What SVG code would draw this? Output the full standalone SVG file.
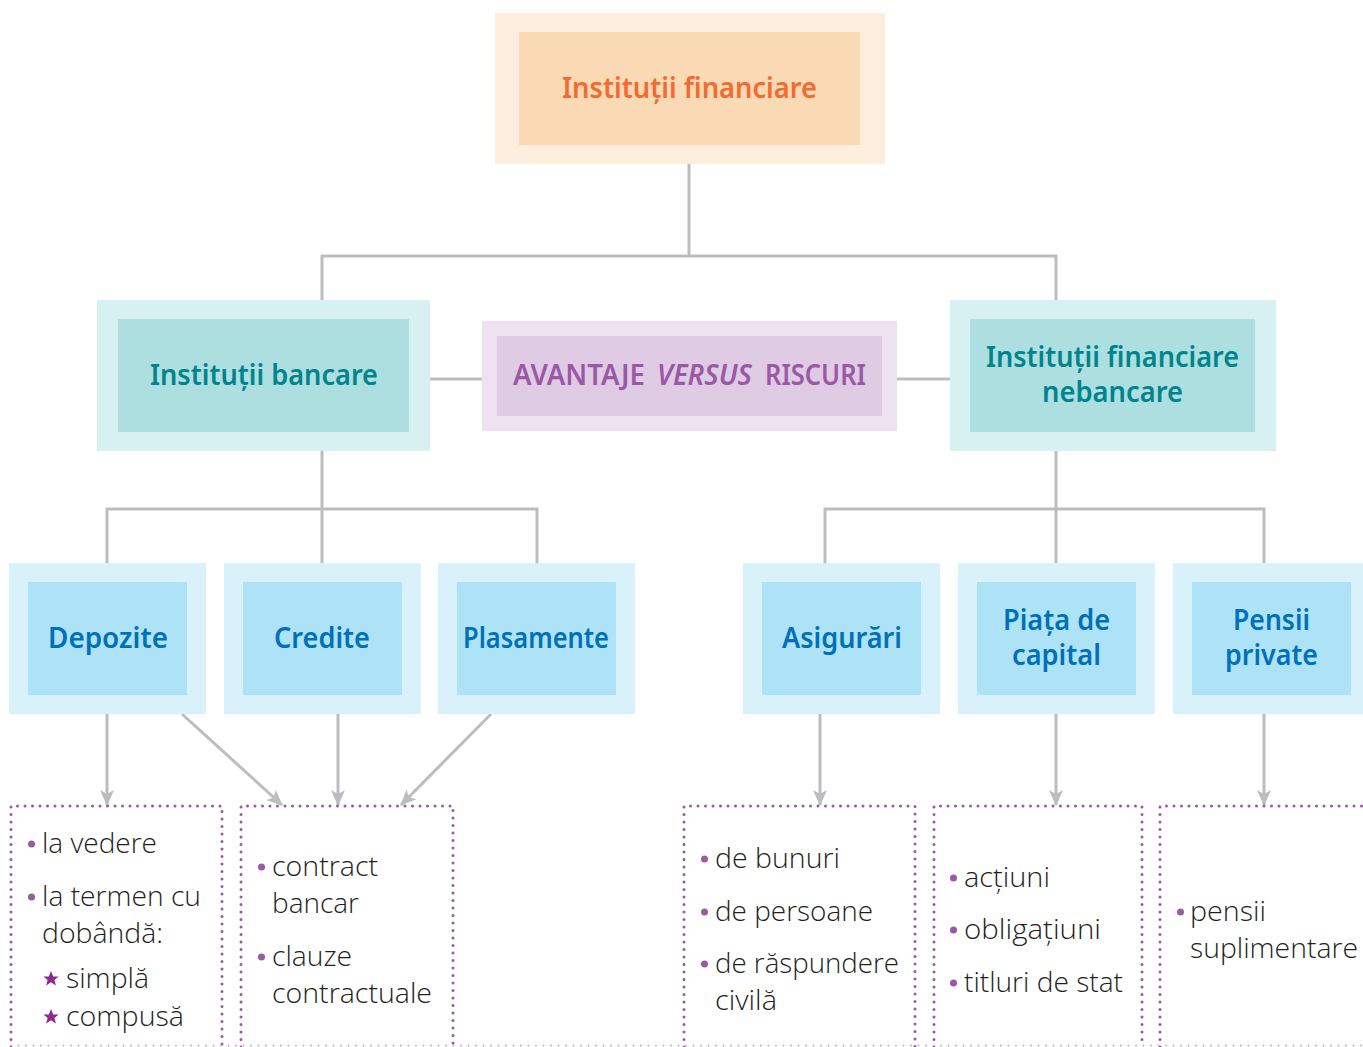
<svg xmlns="http://www.w3.org/2000/svg" width="1363" height="1047" viewBox="0 0 1363 1047">
<style>
.h{font-family:"Noto Sans","Open Sans","Liberation Sans",sans-serif;font-weight:600;text-anchor:middle}
.t28{font-size:28px}
.or{fill:#F26B30}
.teal{fill:#00848E}
.pur{fill:#9A58A6}
.blue{fill:#0070B8}
.li{font-family:"Open Sans","Noto Sans","Liberation Sans",sans-serif;font-weight:300;font-size:28px;fill:#231F20}
.conn{stroke:#BCBDC0;stroke-width:3;fill:none}
.dot{stroke:#9A58A6;stroke-width:3;stroke-linecap:round;stroke-dasharray:0 7.5;fill:none}
.dotf{stroke:#C8A8CE;stroke-width:2;stroke-linecap:round;stroke-dasharray:0 7.5;fill:none}
.bl{fill:#9A58A6}
.o1{fill:#D9F1FB}.i1{fill:#AEE3F7}
.o2{fill:#D7F0F1}.i2{fill:#AEDFE0}
</style>
<defs>
<marker id="ah" markerUnits="userSpaceOnUse" viewBox="0 0 16 16" refX="15" refY="8" markerWidth="16" markerHeight="16" orient="auto">
<path d="M0,1 L16,8 L0,15 L4,8 z" fill="#BCBDC0"/>
</marker>
<polygon id="star" points="0,-8 2.2,-2.6 7.6,-2.5 3.4,0.9 4.9,6.5 0,3.2 -4.9,6.5 -3.4,0.9 -7.6,-2.5 -2.2,-2.6" fill="#8E2A8F"/>
</defs>

<g id="connectors">
<polyline class="conn" points="689,164 689,256"/>
<polyline class="conn" points="322,300 322,256 1056,256 1056,300"/>
<line class="conn" x1="430" y1="379" x2="482" y2="379"/>
<line class="conn" x1="897" y1="379" x2="950" y2="379"/>
<polyline class="conn" points="322,451 322,563"/>
<polyline class="conn" points="107,563 107,509 537,509 537,563"/>
<polyline class="conn" points="1056,451 1056,563"/>
<polyline class="conn" points="825,563 825,509 1264,509 1264,563"/>
<line class="conn" x1="107" y1="714" x2="107" y2="805" marker-end="url(#ah)"/>
<line class="conn" x1="182" y1="714" x2="282" y2="805" marker-end="url(#ah)"/>
<line class="conn" x1="338" y1="714" x2="338" y2="805" marker-end="url(#ah)"/>
<line class="conn" x1="491" y1="714" x2="401" y2="805" marker-end="url(#ah)"/>
<line class="conn" x1="820" y1="714" x2="820" y2="805" marker-end="url(#ah)"/>
<line class="conn" x1="1056" y1="714" x2="1056" y2="805" marker-end="url(#ah)"/>
<line class="conn" x1="1264" y1="714" x2="1264" y2="805" marker-end="url(#ah)"/>
</g>

<g id="n-financiare">
<rect x="495" y="13" width="390" height="151" fill="#FDEDDD"/>
<rect x="519" y="32" width="341" height="113" fill="#FADAB5"/>
<text class="h t28 or" x="689.5" y="98" textLength="255" lengthAdjust="spacingAndGlyphs">Instituții financiare</text>
</g>

<g id="n-bancare">
<rect class="o2" x="97" y="300" width="333" height="151"/>
<rect class="i2" x="118" y="319" width="291" height="113"/>
<text class="h t28 teal" x="264" y="385" textLength="228" lengthAdjust="spacingAndGlyphs">Instituții bancare</text>
</g>

<g id="n-avantaje">
<rect x="482" y="321" width="415" height="110" fill="#EEE2F1"/>
<rect x="497" y="336" width="385" height="80" fill="#DFCBE3"/>
<text class="h t28 pur" x="579" y="385" textLength="132" lengthAdjust="spacingAndGlyphs">AVANTAJE</text>
<text class="h t28 pur" x="704.5" y="385" font-style="italic" textLength="95" lengthAdjust="spacingAndGlyphs">VERSUS</text>
<text class="h t28 pur" x="815.5" y="385" textLength="101" lengthAdjust="spacingAndGlyphs">RISCURI</text>
</g>

<g id="n-nebancare">
<rect class="o2" x="950" y="300" width="326" height="151"/>
<rect class="i2" x="970" y="319" width="285" height="113"/>
<text class="h t28 teal" x="1112.5" y="367" textLength="253" lengthAdjust="spacingAndGlyphs">Instituții financiare</text>
<text class="h t28 teal" x="1112.5" y="402" textLength="141" lengthAdjust="spacingAndGlyphs">nebancare</text>
</g>

<g id="n-depozite">
<rect class="o1" x="9" y="563" width="197" height="151"/>
<rect class="i1" x="28" y="582" width="159" height="113"/>
<text class="h t28 blue" x="108" y="648" textLength="120" lengthAdjust="spacingAndGlyphs">Depozite</text>
</g>

<g id="n-credite">
<rect class="o1" x="224" y="563" width="197" height="151"/>
<rect class="i1" x="243" y="582" width="159" height="113"/>
<text class="h t28 blue" x="322" y="648" textLength="96" lengthAdjust="spacingAndGlyphs">Credite</text>
</g>

<g id="n-plasamente">
<rect class="o1" x="438" y="563" width="197" height="151"/>
<rect class="i1" x="457" y="582" width="159" height="113"/>
<text class="h t28 blue" x="536" y="648" textLength="146" lengthAdjust="spacingAndGlyphs">Plasamente</text>
</g>

<g id="n-asigurari">
<rect class="o1" x="743" y="563" width="197" height="151"/>
<rect class="i1" x="762" y="582" width="159" height="113"/>
<text class="h t28 blue" x="842" y="648" textLength="120" lengthAdjust="spacingAndGlyphs">Asigurări</text>
</g>

<g id="n-piata">
<rect class="o1" x="958" y="563" width="197" height="151"/>
<rect class="i1" x="977" y="582" width="159" height="113"/>
<text class="h t28 blue" x="1056.5" y="630" textLength="107" lengthAdjust="spacingAndGlyphs">Piața de</text>
<text class="h t28 blue" x="1056.5" y="665" textLength="89" lengthAdjust="spacingAndGlyphs">capital</text>
</g>

<g id="n-pensii">
<rect class="o1" x="1173" y="563" width="190" height="151"/>
<rect class="i1" x="1192" y="582" width="159" height="113"/>
<text class="h t28 blue" x="1271.5" y="630" textLength="77" lengthAdjust="spacingAndGlyphs">Pensii</text>
<text class="h t28 blue" x="1271.5" y="665" textLength="93" lengthAdjust="spacingAndGlyphs">private</text>
</g>

<g id="l-depozite">
<polyline class="dot" points="11,1047 11,806 222,806 222,1047"/>
<circle class="bl" cx="31.5" cy="844" r="3.5"/>
<text class="li" x="42" y="853" textLength="115" lengthAdjust="spacingAndGlyphs">la vedere</text>
<circle class="bl" cx="31.5" cy="897" r="3.5"/>
<text class="li" x="42" y="906" textLength="159" lengthAdjust="spacingAndGlyphs">la termen cu</text>
<text class="li" x="42" y="943" textLength="121" lengthAdjust="spacingAndGlyphs">dobândă:</text>
<use href="#star" x="51" y="979"/>
<text class="li" x="66" y="988" textLength="83" lengthAdjust="spacingAndGlyphs">simplă</text>
<use href="#star" x="51" y="1017"/>
<text class="li" x="66" y="1026" textLength="118" lengthAdjust="spacingAndGlyphs">compusă</text>
</g>

<g id="l-credite">
<polyline class="dot" points="241,1047 241,806 453,806 453,1047"/>
<circle class="bl" cx="261.5" cy="867" r="3.5"/>
<text class="li" x="272" y="876" textLength="106" lengthAdjust="spacingAndGlyphs">contract</text>
<text class="li" x="272" y="913" textLength="87" lengthAdjust="spacingAndGlyphs">bancar</text>
<circle class="bl" cx="261.5" cy="957" r="3.5"/>
<text class="li" x="272" y="966" textLength="80" lengthAdjust="spacingAndGlyphs">clauze</text>
<text class="li" x="272" y="1003" textLength="160" lengthAdjust="spacingAndGlyphs">contractuale</text>
</g>

<g id="l-asigurari">
<polyline class="dot" points="684,1047 684,806 915,806 915,1047"/>
<circle class="bl" cx="704.5" cy="859" r="3.5"/>
<text class="li" x="715" y="868" textLength="125" lengthAdjust="spacingAndGlyphs">de bunuri</text>
<circle class="bl" cx="704.5" cy="912" r="3.5"/>
<text class="li" x="715" y="921" textLength="158" lengthAdjust="spacingAndGlyphs">de persoane</text>
<circle class="bl" cx="704.5" cy="964" r="3.5"/>
<text class="li" x="715" y="973" textLength="184" lengthAdjust="spacingAndGlyphs">de răspundere</text>
<text class="li" x="715" y="1010" textLength="62" lengthAdjust="spacingAndGlyphs">civilă</text>
</g>

<g id="l-piata">
<polyline class="dot" points="934,1047 934,806 1142,806 1142,1047"/>
<circle class="bl" cx="953.5" cy="878" r="3.5"/>
<text class="li" x="964" y="887" textLength="86" lengthAdjust="spacingAndGlyphs">acțiuni</text>
<circle class="bl" cx="953.5" cy="930" r="3.5"/>
<text class="li" x="964" y="939" textLength="137" lengthAdjust="spacingAndGlyphs">obligațiuni</text>
<circle class="bl" cx="953.5" cy="983" r="3.5"/>
<text class="li" x="964" y="992" textLength="159" lengthAdjust="spacingAndGlyphs">titluri de stat</text>
</g>

<g id="l-pensii">
<polyline class="dot" points="1160,1047 1160,806 1363,806"/>
<circle class="bl" cx="1180.5" cy="912" r="3.5"/>
<text class="li" x="1190" y="921" textLength="76" lengthAdjust="spacingAndGlyphs">pensii</text>
<text class="li" x="1190" y="958" textLength="168" lengthAdjust="spacingAndGlyphs">suplimentare</text>
</g>

<line class="dotf" x1="11" y1="1045.5" x2="1363" y2="1045.5"/>
</svg>
